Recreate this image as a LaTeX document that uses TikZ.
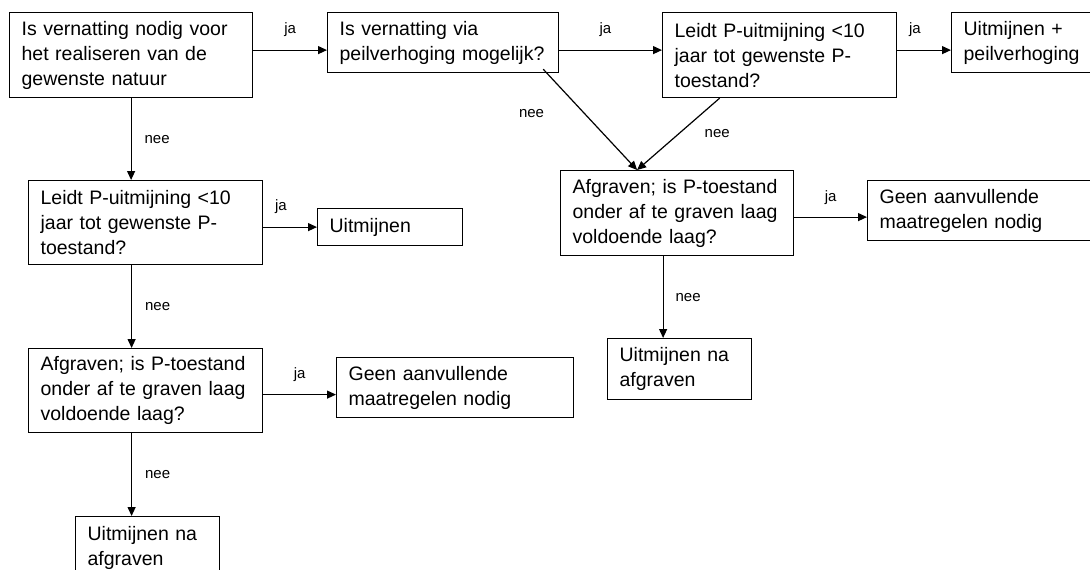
\documentclass[tikz,border=0pt]{standalone}
\usepackage{fontspec}
\setmainfont{Liberation Sans}
\usetikzlibrary{arrows.meta,positioning}
\tikzset{>={Triangle[length=9pt,width=8pt]}}
\tikzset{box/.style={draw,rectangle,anchor=north west,align=left,inner xsep=12pt,inner ysep=0pt,font=\fontsize{19.5}{25}\selectfont},
         lbl/.style={font=\fontsize{15}{18}\selectfont,inner sep=0pt}}

\begin{document}
\begin{tikzpicture}[x=1pt,y=-1pt,line width=1.2pt]
                \useasboundingbox (0,0) rectangle (1090,570);
                \node[box,text width=219pt,minimum height=85pt] (nodig) at (9,12) {Is vernatting nodig voor\\het realiseren van de\\gewenste natuur};
                \node[box,text width=207pt,minimum height=60pt] (peil) at (327,12) {Is vernatting via\\peilverhoging mogelijk?};
                \node[box,text width=210pt,minimum height=85pt] (tienA) at (662,12) {Leidt P-uitmijning <10\\jaar tot gewenste P-\\toestand?};
                \node[box,text width=126pt,minimum height=60pt] (peiluit) at (951,12) {Uitmijnen +\\peilverhoging};
                \node[box,text width=209pt,minimum height=85pt] (afgA) at (560,170) {Afgraven; is P-toestand\\onder af te graven laag\\voldoende laag?};
                \node[box,text width=206pt,minimum height=60pt] (geenA) at (867,180) {Geen aanvullende\\maatregelen nodig};
                \node[box,text width=120pt,minimum height=61pt] (naA) at (607,338) {Uitmijnen na\\afgraven};
                \node[box,text width=210pt,minimum height=84pt] (tienB) at (28,180) {Leidt P-uitmijning <10\\jaar tot gewenste P-\\toestand?};
                \node[box,text width=121pt,minimum height=37pt] (uitmijn) at (317,208) {Uitmijnen};
                \node[box,text width=210pt,minimum height=84pt] (afgB) at (28,348) {Afgraven; is P-toestand\\onder af te graven laag\\voldoende laag?};
                \node[box,text width=213pt,minimum height=60pt] (geenB) at (336,357) {Geen aanvullende\\maatregelen nodig};
                \node[box,text width=120pt,minimum height=62pt] (naB) at (75,516) {Uitmijnen na\\afgraven};
                \draw[->] ([yshift=5pt]nodig.east) -- ([yshift=5pt]nodig.east -| peil.west) node[lbl,midway,yshift=20pt] {ja};
                \draw[->] ([yshift=5pt]tienA.west -| peil.east) -- ([yshift=5pt]tienA.west) node[lbl,pos=0.45,yshift=20pt] {ja};
                \draw[->] ([yshift=5pt]tienA.east) -- ([yshift=5pt]tienA.east -| peiluit.west) node[lbl,pos=0.33,yshift=20pt] {ja};
                \draw[->] ([xshift=-16pt,yshift=4pt]peil.south east) -- ([xshift=-40pt]afgA.north) node[lbl,pos=0.44,xshift=-53pt] {nee};
                \draw[->] ([xshift=-60pt]tienA.south) -- ([xshift=-40pt]afgA.north) node[lbl,pos=0.49,xshift=38pt] {nee};
                \draw[->] ([yshift=-4pt]afgA.east) -- ([yshift=-4pt]afgA.east -| geenA.west) node[lbl,midway,yshift=19pt] {ja};
                \draw[->] ([xshift=-14pt]afgA.south) -- ([xshift=-14pt]afgA.south |- naA.north) node[lbl,midway,xshift=25pt] {nee};
                \draw[->] (nodig.south) -- (nodig.south |- tienB.north) node[lbl,midway,xshift=26pt] {nee};
                \draw[->] (uitmijn.west -| tienB.east) -- (uitmijn.west) node[lbl,pos=0.33,yshift=20pt] {ja};
                \draw[->] ([xshift=-14pt]tienB.south) -- ([xshift=-14pt]tienB.south |- afgB.north) node[lbl,midway,xshift=26pt] {nee};
                \draw[->] ([yshift=-4pt]afgB.east) -- ([yshift=-4pt]afgB.east -| geenB.west) node[lbl,midway,yshift=20pt] {ja};
                \draw[->] ([xshift=-14pt]afgB.south) -- ([xshift=-14pt]afgB.south |- naB.north) node[lbl,midway,xshift=26pt] {nee};
\end{tikzpicture}
\end{document}
